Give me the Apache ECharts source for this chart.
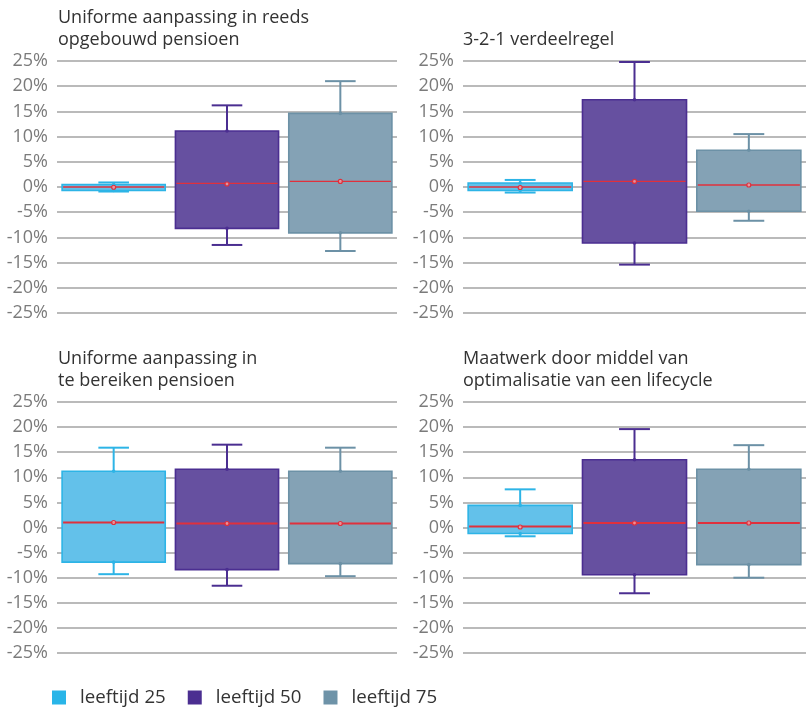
<!DOCTYPE html>
<html>
<head>
<meta charset="utf-8">
<script src="https://cdn.jsdelivr.net/npm/echarts@6/dist/echarts.min.js"></script>
<style>
  html, body { margin: 0; padding: 0; background: #ffffff; }
  #chart { width: 806px; height: 711px; }
</style>
</head>
<body>
<div id="chart"></div>
<script>
// Age groups shown in every panel
const ageGroups = ['leeftijd 25', 'leeftijd 50', 'leeftijd 75'];

// Panel titles
const panelTitles = [
  'Uniforme aanpassing in reeds\nopgebouwd pensioen',
  '3-2-1 verdeelregel',
  'Uniforme aanpassing in\nte bereiken pensioen',
  'Maatwerk door middel van\noptimalisatie van een lifecycle'
];

// Y axis ticks (percent)
const yTicks = [-25, -20, -15, -10, -5, 0, 5, 10, 15, 20, 25];

// Five-number summaries per age group: [min, q1, median, q3, max] in %
const uniformReeds = [
  [-0.9, -0.7, 0.0, 0.5, 0.9],
  [-11.5, -8.2, 0.7, 11.1, 16.2],
  [-12.7, -9.1, 1.1, 14.6, 21.0]
];
const verdeelregel321 = [
  [-1.1, -0.7, 0.0, 0.8, 1.4],
  [-15.4, -11.1, 1.1, 17.3, 24.8],
  [-6.7, -4.8, 0.4, 7.3, 10.5]
];
const uniformTeBereiken = [
  [-9.3, -6.9, 1.0, 11.2, 15.9],
  [-11.6, -8.4, 0.8, 11.6, 16.5],
  [-9.7, -7.2, 0.8, 11.2, 15.9]
];
const maatwerkLifecycle = [
  [-1.75, -1.2, 0.2, 4.4, 7.6],
  [-13.1, -9.4, 0.9, 13.5, 19.6],
  [-10.0, -7.4, 0.9, 11.6, 16.4]
];

// Means per age group (%)
const meanReeds = [-0.05, 0.6, 1.1];
const meanVerdeelregel = [-0.1, 1.1, 0.4];
const meanTeBereiken = [1.0, 0.8, 0.8];
const meanMaatwerk = [0.1, 0.9, 0.9];

const panelStats = [uniformReeds, verdeelregel321, uniformTeBereiken, maatwerkLifecycle];
const panelMeans = [meanReeds, meanVerdeelregel, meanTeBereiken, meanMaatwerk];

// Styling
const boxFill = ['#63c1ea', '#6650a0', '#84a2b5'];
const boxStroke = ['#2db4e6', '#4b2e91', '#6c91a6'];
const legendColor = ['#29b5e8', '#4b2e91', '#6e93a8'];
const medianColor = '#e0303c';
const fontFamily = '"Open Sans", "Noto Sans", sans-serif';

const gridBoxes = [
  { left: 57, top: 61, width: 340, height: 252 },
  { left: 463, top: 61, width: 343, height: 252 },
  { left: 57, top: 402, width: 340, height: 251 },
  { left: 463, top: 402, width: 343, height: 251 }
];
const titlePos = [
  { left: 58, top: 7 },
  { left: 463, top: 29 },
  { left: 58, top: 348 },
  { left: 463, top: 348 }
];
const medianWidth = [1.3, 1.3, 2, 2];

function makeRenderer(fill, stroke, medW) {
  return function (params, api) {
    const cat = api.value(0);
    const lo = api.coord([cat, api.value(1)]);
    const q1 = api.coord([cat, api.value(2)]);
    const med = api.coord([cat, api.value(3)]);
    const q3 = api.coord([cat, api.value(4)]);
    const hi = api.coord([cat, api.value(5)]);
    const mean = api.coord([cat, api.value(6)]);
    const band = api.size([1, 0])[0];
    const half = band * 0.455;
    const capHalf = band * 0.135;
    const x = med[0];
    const whisker = { stroke: stroke, lineWidth: 2 };
    return {
      type: 'group',
      children: [
        { type: 'line', shape: { x1: x, y1: q3[1], x2: x, y2: hi[1] }, style: whisker },
        { type: 'line', shape: { x1: x, y1: q1[1], x2: x, y2: lo[1] }, style: whisker },
        { type: 'line', shape: { x1: x - capHalf, y1: hi[1], x2: x + capHalf, y2: hi[1] }, style: whisker },
        { type: 'line', shape: { x1: x - capHalf, y1: lo[1], x2: x + capHalf, y2: lo[1] }, style: whisker },
        {
          type: 'rect',
          shape: { x: x - half, y: q3[1], width: half * 2, height: q1[1] - q3[1] },
          style: { fill: fill, stroke: stroke, lineWidth: 1.6 }
        },
        { type: 'circle', shape: { cx: x, cy: q3[1], r: 1.8 }, style: { fill: stroke } },
        { type: 'circle', shape: { cx: x, cy: q1[1], r: 1.8 }, style: { fill: stroke } },
        {
          type: 'line',
          shape: { x1: x - half + 1, y1: med[1], x2: x + half - 1, y2: med[1] },
          style: { stroke: medianColor, lineWidth: medW }
        },
        {
          type: 'circle',
          shape: { cx: mean[0], cy: mean[1], r: 2 },
          style: { fill: 'rgba(255,200,200,0.6)', stroke: medianColor, lineWidth: 1.2 }
        }
      ]
    };
  };
}

const grids = [], xAxes = [], yAxes = [], titles = [], series = [];
for (let p = 0; p < 4; p++) {
  grids.push(Object.assign({ containLabel: false }, gridBoxes[p]));
  titles.push({
    text: panelTitles[p],
    left: titlePos[p].left,
    top: titlePos[p].top,
    padding: 0,
    textStyle: { fontFamily: fontFamily, fontSize: 18, fontWeight: 'normal', color: '#333333', lineHeight: 22 }
  });
  xAxes.push({
    type: 'category', gridIndex: p, data: ageGroups, boundaryGap: true,
    axisLine: { show: false }, axisTick: { show: false }, axisLabel: { show: false }, splitLine: { show: false }
  });
  yAxes.push({
    type: 'value', gridIndex: p,
    min: yTicks[0], max: yTicks[yTicks.length - 1], interval: yTicks[1] - yTicks[0],
    axisLine: { show: false }, axisTick: { show: false },
    axisLabel: { formatter: '{value}%', fontFamily: fontFamily, fontSize: 18, color: '#7b7b7b', margin: 9 },
    splitLine: { lineStyle: { color: '#a3a3a3', width: 1.5 } }
  });
  for (let g = 0; g < ageGroups.length; g++) {
    const s = panelStats[p][g];
    series.push({
      type: 'custom',
      name: ageGroups[g],
      xAxisIndex: p,
      yAxisIndex: p,
      itemStyle: { color: legendColor[g] },
      renderItem: makeRenderer(boxFill[g], boxStroke[g], medianWidth[p]),
      encode: { x: 0, y: [1, 2, 3, 4, 5, 6] },
      data: [[g, s[0], s[1], s[2], s[3], s[4], panelMeans[p][g]]],
      silent: true
    });
  }
}

const chart = echarts.init(document.getElementById('chart'), null, { renderer: 'canvas' });
chart.setOption({
  backgroundColor: '#ffffff',
  animation: false,
  title: titles,
  grid: grids,
  xAxis: xAxes,
  yAxis: yAxes,
  legend: {
    left: 52,
    top: 688,
    padding: 0,
    icon: 'rect',
    itemWidth: 14,
    itemHeight: 14,
    itemGap: 22,
    selectedMode: false,
    textStyle: { fontFamily: fontFamily, fontSize: 18.7, color: '#333333', padding: [0, 0, 0, 9] },
    data: ageGroups.map((name, i) => ({ name: name, itemStyle: { color: legendColor[i] } }))
  },
  series: series
});
</script>
</body>
</html>
